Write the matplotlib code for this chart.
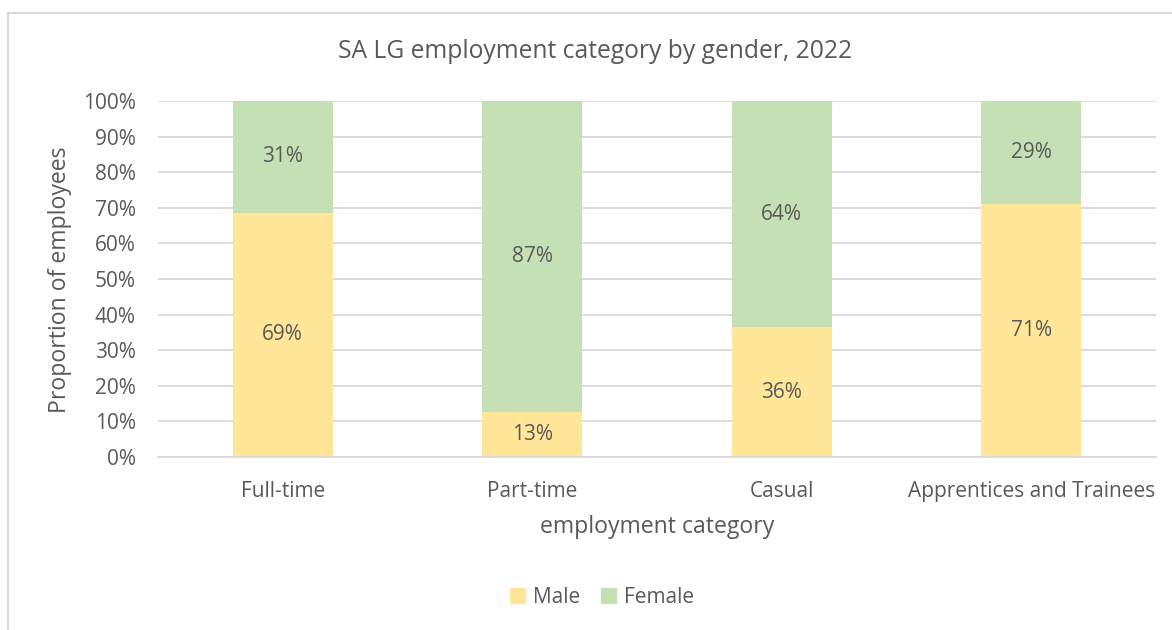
import matplotlib
matplotlib.use("Agg")
import matplotlib.pyplot as plt
import numpy as np
from matplotlib.lines import Line2D
from matplotlib.patches import Patch

plt.rcParams['font.family'] = ['Open Sans', 'DejaVu Sans']

categories = ['Full-time', 'Part-time', 'Casual', 'Apprentices and Trainees']
male = [68.6, 12.6, 36.4, 71.0]
female = [31.4, 87.4, 63.6, 29.0]

c_male = '#ffe699'
c_female = '#c5e0b4'
grey = '#595959'
grid_c = '#d9d9d9'

fig = plt.figure(figsize=(11.72, 6.30), dpi=100)
ax = fig.add_axes([0.1348, 0.2746, 0.8515, 0.5651])

x = np.arange(len(categories))
ax.bar(x, male, width=0.4, color=c_male, zorder=2, label='Male')
ax.bar(x, female, width=0.4, bottom=male, color=c_female, zorder=2, label='Female')

# labels inside the bars
for i in range(len(categories)):
    ax.text(x[i], male[i] / 2, f'{male[i]:.0f}%', ha='center', va='center',
            fontsize=15, color=grey)
    ax.text(x[i], male[i] + female[i] / 2, f'{female[i]:.0f}%', ha='center', va='center',
            fontsize=15, color=grey)

ax.set_xlim(-0.5, 3.5)
ax.set_ylim(0, 100)
ax.set_yticks(range(0, 101, 10))
ax.set_yticklabels([f'{v}%' for v in range(0, 101, 10)])
ax.set_xticks(x)
ax.set_xticklabels(categories)
ax.tick_params(axis='both', length=0, labelsize=15, colors=grey)
ax.tick_params(axis='y', pad=16)
ax.tick_params(axis='x', pad=17)
ax.grid(axis='y', color=grid_c, linewidth=1.3, zorder=0)
for s in ['top', 'right', 'left']:
    ax.spines[s].set_visible(False)
ax.spines['bottom'].set_color(grid_c)
ax.spines['bottom'].set_linewidth(1.3)

fig.text(595 / 1172, 1 - 52 / 630, 'SA LG employment category by gender, 2022',
         fontsize=17.7, color=grey, ha='center', va='center')
fig.text(657 / 1172, 1 - 527 / 630, 'employment category',
         fontsize=16.6, color=grey, ha='center', va='center')
fig.text(60 / 1172, 1 - 280 / 630, 'Proportion of employees', rotation=90,
         fontsize=16.6, color=grey, ha='center', va='center')

handles = [Patch(color=c_male), Patch(color=c_female)]
fig.legend(handles, ['Male', 'Female'], loc='center', bbox_to_anchor=(0.514, 0.052),
           ncol=2, frameon=False, fontsize=15, labelcolor=grey, handlelength=0.7,
           handleheight=0.7, columnspacing=1.0, handletextpad=0.4)

# chart frame
fig.add_artist(Line2D([8 / 1172, 8 / 1172], [0, 1 - 13 / 630], color=grid_c, lw=1.5))
fig.add_artist(Line2D([8 / 1172, 1], [1 - 13 / 630, 1 - 13 / 630], color=grid_c, lw=1.5))

fig.savefig('out.png', dpi=100)
